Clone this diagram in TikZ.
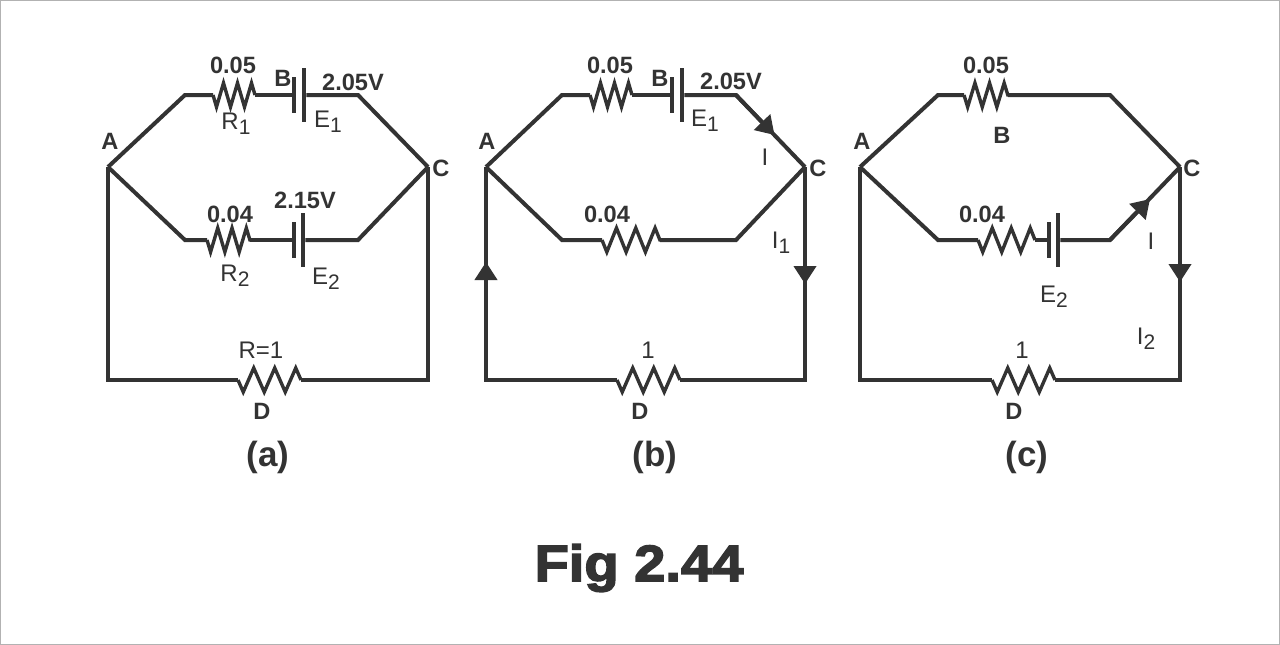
\documentclass[tikz,border=0pt]{standalone}
\usepackage{fontspec}
\setmainfont{Liberation Sans}
\newfontfamily\figfont[FakeStretch=1.1,FakeBold=3]{Liberation Sans Bold}
\usetikzlibrary{positioning, arrows.meta, decorations.pathmorphing}
\newcommand{\idx}[2]{#1\raisebox{-5pt}{\fontsize{21}{21}\selectfont #2}}
\definecolor{ink}{HTML}{333333}
\tikzset{
  wire/.style={draw=ink, line width=4pt, line join=miter},
  flow/.style={wire, -{Triangle[length=18pt, width=22pt]}},
  resistor/.style={draw=ink, line width=3.4pt, decorate,
    decoration={zigzag, mirror, amplitude=12pt, segment length=#1}},
  shortplate/.style={fill=ink, inner sep=0pt, minimum width=4pt, minimum height=36pt},
  longplate/.style={fill=ink, inner sep=0pt, minimum width=4.5pt, minimum height=54pt},
  boldlabel/.style={text=ink, inner sep=0pt, font=\bfseries\fontsize{23.6}{25}\selectfont},
  thinlabel/.style={text=ink, inner sep=0pt, font=\fontsize{24}{26}\selectfont},
  caplabel/.style={text=ink, inner sep=0pt, font=\bfseries\fontsize{35}{37}\selectfont}
}
\begin{document}
\begin{tikzpicture}[x=1pt, y=-1pt]
    \useasboundingbox (0,0) rectangle (1280,645);
    \draw[draw=black!30, line width=2pt] (0,0) rectangle (1280,645);

    % (a)
    \coordinate (Aa) at (108,167);
    \coordinate (Ca) at (428,167);
    \coordinate (ta1) at (185,95);
    \coordinate (ta2) at (358,95);
    \coordinate (ra1) at (213,95);
    \coordinate (ra2) at (255,95);
    \node[shortplate] (sa1) at (294,95) {};
    \node[longplate] (la1) at (304,95) {};
    \coordinate (ma1) at (185,240);
    \coordinate (ma2) at (358,240);
    \coordinate (ra3) at (207,240);
    \coordinate (ra4) at (250,240);
    \node[shortplate] (sa2) at (294,240) {};
    \node[longplate] (la2) at (303,240) {};
    \coordinate (ba1) at (108,380);
    \coordinate (ba2) at (428,380);
    \coordinate (ra5) at (238,380);
    \coordinate (ra6) at (301,380);
    \draw[wire] (Aa) -- (ta1) -- (ra1);
    \draw[resistor=14pt] (ra1) -- (ra2);
    \draw[wire] (ra2) -- (sa1);
    \draw[wire] (la1) -- (ta2) -- (Ca);
    \draw[wire] (Aa) -- (ma1) -- (ra3);
    \draw[resistor=14.3pt] (ra3) -- (ra4);
    \draw[wire] (ra4) -- (sa2);
    \draw[wire] (la2) -- (ma2) -- (Ca);
    \draw[wire] (ra5) -- (ba1) -- (Aa);
    \draw[resistor=21pt] (ra5) -- (ra6);
    \draw[wire] (ra6) -- (ba2) -- (Ca);
    \node[boldlabel] (va1) at (233,65) {0.05};
    \node[boldlabel] (na1) at (283,78) {B};
    \node[boldlabel] (va2) at (353,82) {2.05V};
    \node[thinlabel] (na2) at (236,124) {\idx{R}{1}};
    \node[thinlabel] (na3) at (328,122) {\idx{E}{1}};
    \node[boldlabel] (na4) at (110,141) {A};
    \node[boldlabel] (na5) at (441,168) {C};
    \node[boldlabel] (va3) at (230,214) {0.04};
    \node[boldlabel] (va4) at (305,200) {2.15V};
    \node[thinlabel] (na6) at (235,276) {\idx{R}{2}};
    \node[thinlabel] (na7) at (326,279) {\idx{E}{2}};
    \node[thinlabel] (va5) at (261,350) {R=1};
    \node[boldlabel] (na8) at (262,411) {D};
    \node[caplabel] (cap1) at (268,457) {(a)};

    % (b)
    \coordinate (Ab) at (486,167);
    \coordinate (Cb) at (805,167);
    \coordinate (tb1) at (562,95);
    \coordinate (tb2) at (736,95);
    \coordinate (rb1) at (590,95);
    \coordinate (rb2) at (632,95);
    \node[shortplate] (sb1) at (672,95) {};
    \node[longplate] (lb1) at (682,95) {};
    \coordinate (mb1) at (562,240);
    \coordinate (mb2) at (736,240);
    \coordinate (rb3) at (602,240);
    \coordinate (rb4) at (660,240);
    \coordinate (bb1) at (486,380);
    \coordinate (bb2) at (805,380);
    \coordinate (rb5) at (617,380);
    \coordinate (rb6) at (680,380);
    \coordinate (fb1) at (486,262);
    \coordinate (fb2) at (805,284);
    \coordinate (fb3) at (774.5,135);
    \draw[wire] (Ab) -- (tb1) -- (rb1);
    \draw[resistor=14pt] (rb1) -- (rb2);
    \draw[wire] (rb2) -- (sb1);
    \draw[wire] (lb1) -- (tb2) -- (Cb);
    \draw[wire] (Ab) -- (mb1) -- (rb3);
    \draw[resistor=19.3pt] (rb3) -- (rb4);
    \draw[wire] (rb4) -- (mb2) -- (Cb);
    \draw[wire] (rb5) -- (bb1) -- (Ab);
    \draw[resistor=21pt] (rb5) -- (rb6);
    \draw[wire] (rb6) -- (bb2) -- (Cb);
    \draw[flow] (bb1) -- (fb1);
    \draw[flow] (Cb) -- (fb2);
    \draw[flow] (tb2) -- (fb3);
    \node[boldlabel] (vb1) at (610,65) {0.05};
    \node[boldlabel] (nb1) at (660,78) {B};
    \node[boldlabel] (vb2) at (731,81) {2.05V};
    \node[thinlabel] (nb2) at (705,121) {\idx{E}{1}};
    \node[thinlabel] (nb3) at (765,157) {I};
    \node[boldlabel] (nb4) at (487,141) {A};
    \node[boldlabel] (nb5) at (818,168) {C};
    \node[boldlabel] (vb3) at (607,214) {0.04};
    \node[thinlabel] (nb6) at (781,243) {\idx{I}{1}};
    \node[thinlabel] (vb4) at (648,350) {1};
    \node[boldlabel] (nb7) at (640,411) {D};
    \node[caplabel] (cap2) at (655,457) {(b)};

    % (c)
    \coordinate (Ac) at (860,167);
    \coordinate (Cc) at (1180,167);
    \coordinate (tc1) at (938,95);
    \coordinate (tc2) at (1110,95);
    \coordinate (rc1) at (964,95);
    \coordinate (rc2) at (1008,95);
    \coordinate (mc1) at (938,240);
    \coordinate (mc2) at (1110,240);
    \coordinate (rc3) at (978,240);
    \coordinate (rc4) at (1035,240);
    \node[shortplate] (sc1) at (1049,240) {};
    \node[longplate] (lc1) at (1058,240) {};
    \coordinate (bc1) at (860,380);
    \coordinate (bc2) at (1180,380);
    \coordinate (rc5) at (992,380);
    \coordinate (rc6) at (1055,380);
    \coordinate (fc1) at (1180,282);
    \coordinate (fc2) at (1150,199);
    \draw[wire] (Ac) -- (tc1) -- (rc1);
    \draw[resistor=14.6pt] (rc1) -- (rc2);
    \draw[wire] (rc2) -- (tc2) -- (Cc);
    \draw[wire] (Ac) -- (mc1) -- (rc3);
    \draw[resistor=19pt] (rc3) -- (rc4);
    \draw[wire] (rc4) -- (sc1);
    \draw[wire] (lc1) -- (mc2) -- (Cc);
    \draw[wire] (rc5) -- (bc1) -- (Ac);
    \draw[resistor=21pt] (rc5) -- (rc6);
    \draw[wire] (rc6) -- (bc2) -- (Cc);
    \draw[flow] (Cc) -- (fc1);
    \draw[flow] (mc2) -- (fc2);
    \node[boldlabel] (vc1) at (986,65) {0.05};
    \node[boldlabel] (nc1) at (1002,135) {B};
    \node[boldlabel] (nc2) at (862,141) {A};
    \node[boldlabel] (nc3) at (1192,168) {C};
    \node[boldlabel] (vc2) at (982,214) {0.04};
    \node[thinlabel] (nc4) at (1054,297) {\idx{E}{2}};
    \node[thinlabel] (nc5) at (1151,241) {I};
    \node[thinlabel] (nc6) at (1146,339) {\idx{I}{2}};
    \node[thinlabel] (vc3) at (1022,350) {1};
    \node[boldlabel] (nc7) at (1014,411) {D};
    \node[caplabel] (cap3) at (1027,457) {(c)};

    \node[text=ink, inner sep=0pt, font=\figfont\fontsize{51}{53}\selectfont] (fig) at (639,568) {Fig 2.44};
\end{tikzpicture}
\end{document}
